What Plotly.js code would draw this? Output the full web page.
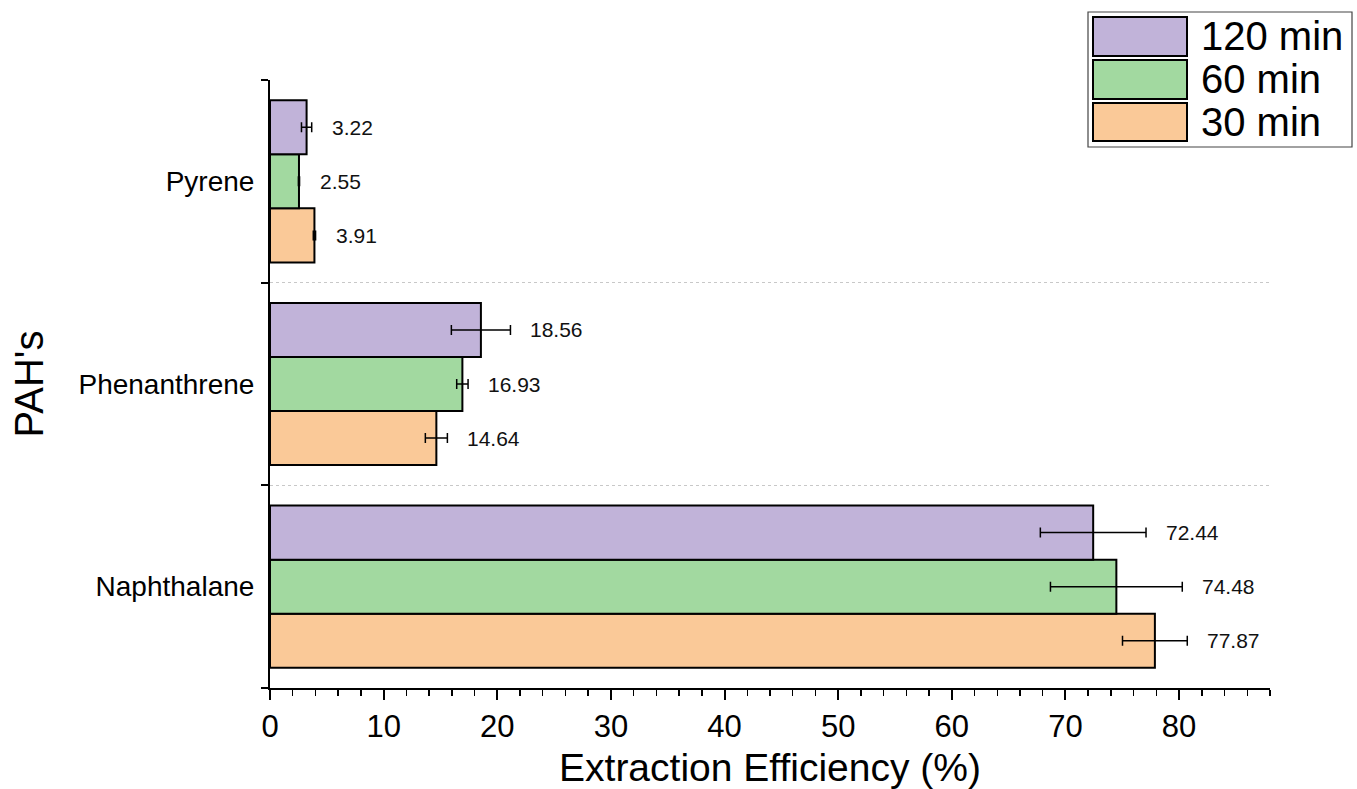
<!DOCTYPE html>
<html>
<head>
<meta charset="utf-8">
<script src="https://cdn.plot.ly/plotly-3.0.1.min.js"></script>
<style>html,body{margin:0;padding:0;background:#fff;}#chart{width:1357px;height:789px;}</style>
</head>
<body>
<div id="chart"></div>
<script>
const categories = ["Naphthalane", "Phenanthrene", "Pyrene"];
const seriesNames = ["30 min", "60 min", "120 min"];
const values30 = [77.87, 14.64, 3.91];
const values60 = [74.48, 16.93, 2.55];
const values120 = [72.44, 18.56, 3.22];
const err30 = [2.85, 0.97, 0.1];
const err60 = [5.8, 0.5, 0.05];
const err120 = [4.65, 2.6, 0.45];
const xTicks = [0, 10, 20, 30, 40, 50, 60, 70, 80];

const colors = ["#FAC998", "#A2D9A0", "#C1B3D9"];
const allVals = [values30, values60, values120];
const allErr = [err30, err60, err120];
const FONT = "Liberation Sans, Arial, sans-serif";

const traces = allVals.map((v, i) => ({
  type: "bar",
  orientation: "h",
  name: seriesNames[i],
  y: categories,
  x: v,
  marker: {color: colors[i], line: {color: "#000", width: 2}},
  error_x: {type: "data", array: allErr[i], visible: true, color: "#000", thickness: 1.5, width: 5},
  showlegend: false,
  hoverinfo: "x+y"
}));

const annotations = [];
const offsets = [-0.2667, 0, 0.2667];
allVals.forEach((v, i) => {
  v.forEach((val, j) => {
    annotations.push({
      x: val + allErr[i][j], y: j + offsets[i], xref: "x", yref: "y",
      text: val.toFixed(2), showarrow: false, xanchor: "left", xshift: 18,
      font: {family: FONT, size: 21, color: "#111"}
    });
  });
});

const shapes = [];
const W = 1357, H = 789, L = 270, R = 87, T = 80, B = 101;
const pw = W - L - R, ph = H - T - B;
const px = x => (x - L) / pw;
const py = y => (H - B - y) / ph;
shapes.push({type: "rect", xref: "paper", yref: "paper", x0: px(1088), x1: px(1352), y0: py(147), y1: py(12), line: {color: "#444", width: 1.2}, fillcolor: "rgba(0,0,0,0)"});
const legOrder = [2, 1, 0];
const legY = [[17, 56], [60, 99], [103, 141]];
legOrder.forEach((si, k) => {
  shapes.push({type: "rect", xref: "paper", yref: "paper", x0: px(1093), x1: px(1187), y0: py(legY[k][1]), y1: py(legY[k][0]), line: {color: "#000", width: 2}, fillcolor: colors[si]});
  annotations.push({xref: "paper", yref: "paper", x: px(1199), y: py((legY[k][0] + legY[k][1]) / 2), text: seriesNames[si], showarrow: false, xanchor: "left", yanchor: "middle", font: {family: FONT, size: 40, color: "#000"}});
});

const layout = {
  width: W, height: H,
  margin: {l: L, r: R, t: T, b: B},
  paper_bgcolor: "#fff", plot_bgcolor: "#fff",
  barmode: "group", bargap: 0.2, bargroupgap: 0,
  font: {family: FONT, color: "#000"},
  xaxis: {
    range: [0, 88], tickvals: xTicks, ticks: "outside", ticklen: 10, tickwidth: 2, tickcolor: "#000",
    minor: {dtick: 2, ticks: "outside", ticklen: 6, tickwidth: 1.5, tickcolor: "#000", showgrid: false},
    showline: true, linecolor: "#000", linewidth: 2, showgrid: false, zeroline: false,
    tickfont: {family: "Liberation Sans Narrow, Arial Narrow, Liberation Sans, sans-serif", size: 31, color: "#000"},
    title: {text: "Extraction Efficiency (%)", font: {family: FONT, size: 39, color: "#000"}, standoff: 14}
  },
  yaxis: {
    type: "category", categoryarray: categories, range: [-0.5, 2.5],
    tickson: "boundaries", ticks: "outside", ticklen: 7, tickwidth: 2, tickcolor: "#000",
    showline: true, linecolor: "#000", linewidth: 2,
    showgrid: true, gridcolor: "#c8c8c8", griddash: "dot", gridwidth: 1,
    tickfont: {family: FONT, size: 28, color: "#000"},
    ticklabelstandoff: 8,
    title: {text: "PAH's", font: {family: FONT, size: 40, color: "#000"}, standoff: 22}
  },
  annotations: annotations,
  shapes: shapes
};

Plotly.newPlot("chart", traces, layout, {displayModeBar: false, staticPlot: true});
</script>
</body>
</html>
